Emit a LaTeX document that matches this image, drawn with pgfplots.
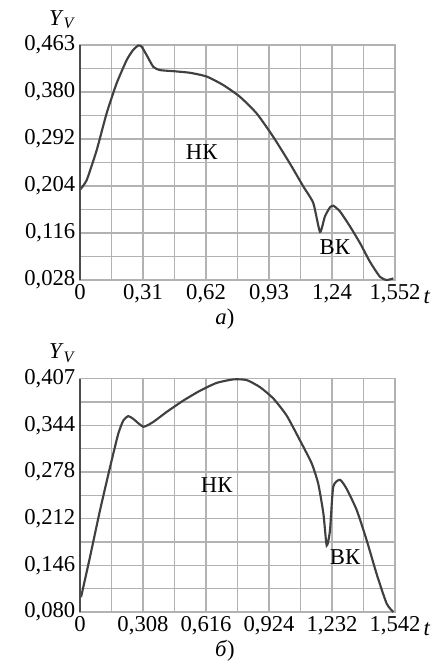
\documentclass[border=0pt]{standalone}
\usepackage{fontspec}
\setmainfont{Liberation Serif}
\usepackage{pgfplots}
\pgfplotsset{compat=1.18}

\pgfplotsset{
  panel/.style={
    scale only axis,
    width=236.25pt,
    axis lines=box,
    axis line style={gray!60, line width=1.1pt},
    grid=major,
    major grid style={gray!60, line width=1.1pt},
    major tick length=0pt,
    ticklabel style={font=\fontsize{17}{19}\selectfont},
    /pgf/number format/assume math mode=true,
    clip=false,
  },
  curve/.style={black!75, line width=1.6pt, smooth, tension=0.35},
}

\begin{document}
\begin{tikzpicture}
\path[use as bounding box] (-60pt,-289.5pt) rectangle (264pt,210pt);

% a)
\begin{axis}[panel,
    height=176.25pt,
    xmin=0, xmax=1.55,
    ymin=0.028, ymax=0.468,
    xtick={0,0.155,0.31,0.465,0.62,0.775,0.93,1.085,1.24,1.395,1.55},
    xticklabels={0,,{0,31},,{0,62},,{0,93},,{1,24},,{1,552}},
    ytick={0.028,0.072,0.116,0.160,0.204,0.248,0.292,0.336,0.380,0.424,0.468},
    yticklabels={{0,028},,{0,116},,{0,204},,{0,292},,{0,380},,{0,463}},
]
\addplot[curve] coordinates {
(0,0.197)(0.033,0.215)(0.082,0.271)(0.131,0.340)(0.180,0.396)(0.230,0.440)
(0.262,0.459)(0.287,0.467)(0.303,0.465)(0.328,0.449)(0.361,0.427)(0.394,0.421)
(0.459,0.419)(0.541,0.416)(0.623,0.409)(0.705,0.393)(0.787,0.371)(0.869,0.340)
(0.951,0.296)(1.033,0.246)(1.099,0.203)(1.148,0.172)(1.181,0.118)(1.205,0.147)
(1.230,0.164)(1.247,0.167)(1.280,0.156)(1.329,0.128)(1.378,0.097)(1.427,0.062)
(1.476,0.034)(1.509,0.028)(1.542,0.031)
};
\draw[black!70, line width=1.6pt] (rel axis cs:0,0) -- (rel axis cs:0,1);
\node[font=\fontsize{17}{19}\selectfont] at (axis cs:0.599,0.268) {НК};
\node[font=\fontsize{17}{19}\selectfont] at (axis cs:1.254,0.090) {ВК};
\node[font=\fontsize{17}{19}\selectfont] at (rel axis cs:0,1) [xshift=-13.5pt, yshift=19pt] {\textit{Y}\raisebox{-0.35ex}{\fontsize{12}{14}\selectfont\textit{V}}};
\node[font=\fontsize{17}{19}\selectfont] at (rel axis cs:1,0) [xshift=24pt, yshift=-13pt] {\textit{t}};
\node[font=\fontsize{17}{19}\selectfont] at (rel axis cs:0.46,0) [yshift=-29pt] {\textit{а})};
\end{axis}

% б)
\begin{axis}[panel,
    at={(0,-249pt)},
    height=175pt,
    xmin=0, xmax=1.54,
    ymin=0.080, ymax=0.410,
    xtick={0,0.154,0.308,0.462,0.616,0.770,0.924,1.078,1.232,1.386,1.54},
    xticklabels={0,,{0,308},,{0,616},,{0,924},,{1,232},,{1,542}},
    ytick={0.080,0.113,0.146,0.179,0.212,0.245,0.278,0.311,0.344,0.377,0.410},
    yticklabels={{0,080},,{0,146},,{0,212},,{0,278},,{0,344},,{0,407}},
]
\addplot[curve] coordinates {
(0.005,0.101)(0.016,0.115)(0.049,0.158)(0.098,0.224)(0.147,0.285)(0.187,0.332)
(0.212,0.351)(0.236,0.357)(0.261,0.353)(0.310,0.342)(0.359,0.349)(0.424,0.363)
(0.505,0.379)(0.587,0.393)(0.668,0.404)(0.750,0.409)(0.815,0.408)(0.880,0.398)
(0.945,0.382)(1.010,0.358)(1.075,0.323)(1.133,0.290)(1.165,0.261)(1.190,0.219)
(1.206,0.174)(1.222,0.195)(1.238,0.257)(1.271,0.267)(1.304,0.254)(1.353,0.224)
(1.402,0.181)(1.450,0.134)(1.499,0.092)(1.532,0.080)
};
\draw[black!70, line width=1.6pt] (rel axis cs:0,0) -- (rel axis cs:0,1);
\node[font=\fontsize{17}{19}\selectfont] at (axis cs:0.668,0.259) {НК};
\node[font=\fontsize{17}{19}\selectfont] at (axis cs:1.296,0.158) {ВК};
\node[font=\fontsize{17}{19}\selectfont] at (rel axis cs:0,1) [xshift=-13.5pt, yshift=19pt] {\textit{Y}\raisebox{-0.35ex}{\fontsize{12}{14}\selectfont\textit{V}}};
\node[font=\fontsize{17}{19}\selectfont] at (rel axis cs:1,0) [xshift=24pt, yshift=-13pt] {\textit{t}};
\node[font=\fontsize{17}{19}\selectfont] at (rel axis cs:0.46,0) [yshift=-29pt] {\textit{б})};
\end{axis}
\end{tikzpicture}
\end{document}
